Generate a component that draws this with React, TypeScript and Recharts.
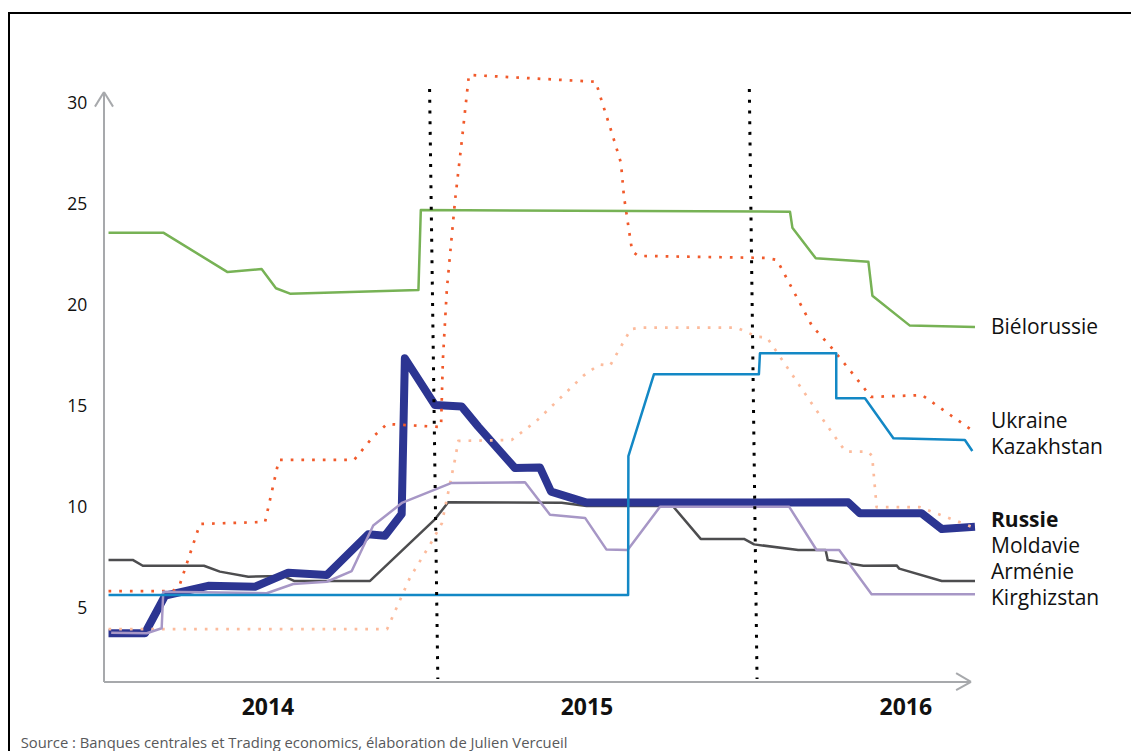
import React from 'react';
import { LineChart, Line, XAxis, YAxis, ReferenceLine } from 'recharts';

// x = months since January 2014, y = key policy rate (%)
const yearTicks = [6, 18, 30];
const yearLabels = ['2014', '2015', '2016'];
const rateTicks = [5, 10, 15, 20, 25, 30];

const bielorussie = [
  [0, 23.58], [2.06, 23.58], [4.48, 21.63], [5.76, 21.78], [6.3, 20.83], [6.83, 20.56],
  [11.66, 20.74], [11.75, 24.7], [25.64, 24.62], [25.73, 23.83], [26.61, 22.31],
  [28.59, 22.14], [28.74, 20.46], [30.15, 18.98], [32.6, 18.91],
];
const ukraine = [
  [0, 5.84], [2.43, 5.84], [2.69, 6.19], [3.44, 9.16], [5.89, 9.26], [6.41, 12.33],
  [9.24, 12.33], [9.95, 13.47], [10.48, 14.11], [12.51, 13.96], [12.58, 17.28],
  [12.73, 20.79], [13.04, 25.2], [13.3, 28.22], [13.56, 31.39], [18.34, 31.05],
  [18.45, 30.54], [18.94, 28.51], [19.28, 27.03], [19.39, 25.4], [19.58, 23.71],
  [19.7, 22.67], [19.92, 22.43], [24.77, 22.33], [25.15, 22.23], [26.47, 18.96],
  [27.15, 17.97], [28.01, 16.58], [28.69, 15.45], [30.61, 15.54], [32.53, 13.76],
];
const kazakhstan = [
  [0, 5.64], [19.55, 5.64], [19.56, 12.52], [20.52, 16.57], [24.47, 16.57], [24.51, 17.61],
  [27.38, 17.61], [27.38, 15.38], [28.46, 15.38], [29.53, 13.4], [32.22, 13.32], [32.5, 12.77],
];
const russie = [
  [0, 3.75], [1.37, 3.75], [2.13, 5.61], [3.75, 6.1], [5.51, 6.05], [6.76, 6.75],
  [8.21, 6.63], [9.77, 8.65], [10.4, 8.58], [11.03, 9.65], [11.15, 17.36], [12.28, 15.05],
  [13.29, 14.97], [13.91, 13.98], [15.29, 11.93], [16.23, 11.96], [16.65, 10.76],
  [17.99, 10.22], [27.83, 10.23], [28.27, 9.69], [30.59, 9.69], [31.35, 8.91], [32.6, 9.02],
];
const moldavie = [
  [0, 3.95], [10.48, 3.95], [11.34, 6.5], [12.16, 8.28], [12.54, 9.19], [13.04, 12.38],
  [13.16, 13.27], [15.17, 13.32], [16.11, 14.27], [17.86, 16.49], [18.47, 17.06],
  [18.87, 17.0], [19.65, 18.8], [20.02, 18.88], [23.63, 18.88], [24.39, 18.43],
  [24.77, 18.4], [26.35, 15.33], [27.52, 13.12], [27.74, 12.74], [28.59, 12.74],
  [28.73, 12.52], [28.9, 9.99], [30.53, 9.99], [32.48, 9.02],
];
const armenie = [
  [0, 7.38], [0.91, 7.38], [1.29, 7.09], [3.59, 7.09], [4.19, 6.8], [5.26, 6.55],
  [6.58, 6.58], [6.98, 6.34], [9.84, 6.34], [12.28, 9.39], [12.78, 10.23], [17.05, 10.21],
  [17.99, 10.05], [21.23, 10.05], [22.28, 8.42], [23.91, 8.42], [24.29, 8.15],
  [25.95, 7.87], [26.98, 7.87], [27.06, 7.38], [28.4, 7.09], [29.65, 7.11], [29.75, 6.95],
  [31.35, 6.34], [32.6, 6.34],
];
const kirghizstan = [
  [0.1, 3.78], [1.44, 3.75], [2.0, 4.0], [2.06, 5.81], [5.95, 5.73], [6.95, 6.19],
  [8.21, 6.3], [9.15, 6.83], [9.96, 9.08], [11.06, 10.22], [12.91, 11.19], [15.67, 11.22],
  [16.61, 9.62], [17.93, 9.46], [18.73, 7.9], [19.53, 7.87], [20.75, 10.01], [25.61, 10.01],
  [26.64, 7.87], [27.49, 7.87], [28.71, 5.68], [32.6, 5.68],
];

// dotted markers (Dec 2014 / Dec 2015): [x at top, x at bottom]
const markers = [
  [12.08, 12.39],
  [24.11, 24.4],
];
const markerTop = 30.69;
const markerBottom = 1.49;

const toPoints = (arr: number[][]) => arr.map(([m, v]) => ({ m, v }));

const FONT = '"Open Sans", "Noto Sans", sans-serif';
const AXIS = '#a7a9ac';

const series = [
  { name: 'Arménie', data: armenie, color: '#4d4d4f', width: 2.5 },
  { name: 'Russie', data: russie, color: '#2c3592', width: 8 },
  { name: 'Moldavie', data: moldavie, color: '#fcbb9c', width: 2.7, dash: '2.7 8' },
  { name: 'Ukraine', data: ukraine, color: '#f15a2b', width: 2.7, dash: '2.7 8' },
  { name: 'Biélorussie', data: bielorussie, color: '#77b255', width: 2.5 },
  { name: 'Kirghizstan', data: kirghizstan, color: '#a797c6', width: 2.5 },
  { name: 'Kazakhstan', data: kazakhstan, color: '#1388c5', width: 2.5 },
];

const labels = [
  { text: 'Biélorussie', y: 334, bold: false },
  { text: 'Ukraine', y: 428.3, bold: false },
  { text: 'Kazakhstan', y: 454, bold: false },
  { text: 'Russie', y: 527.3, bold: true },
  { text: 'Moldavie', y: 553.3, bold: false },
  { text: 'Arménie', y: 579.3, bold: false },
  { text: 'Kirghizstan', y: 605, bold: false },
];

const W = 1131;
const H = 751;

export default function App() {
  const axisX = -0.17;
  const axisY = 1.34;
  return (
    <div style={{ position: 'absolute', left: 0, top: 0, width: W, height: H, background: '#fff', overflow: 'hidden', fontFamily: FONT }}>
      <div style={{ position: 'absolute', left: 7.5, top: 11.5, width: W, height: H, borderTop: '2.5px solid #000', borderLeft: '2.5px solid #000' }} />
      <div style={{ position: 'absolute', left: 0, top: 0 }}>
        <LineChart width={W} height={H} margin={{ top: 62.6, right: 150.7, bottom: 22.1, left: 40 }}>
          <XAxis
            type="number"
            dataKey="m"
            domain={[-0.2, 32.8]}
            ticks={yearTicks}
            interval={0}
            tickFormatter={(t: number) => yearLabels[yearTicks.indexOf(t)]}
            axisLine={false}
            tickLine={false}
            tickSize={0}
            tickMargin={0}
            height={30}
            allowDataOverflow
            tick={{ fill: '#111', fontSize: 23, fontWeight: 700, fontFamily: FONT }}
          />
          <YAxis
            type="number"
            dataKey="v"
            domain={[0.5, 32]}
            ticks={rateTicks}
            interval={0}
            axisLine={false}
            tickLine={false}
            tickSize={0}
            tickMargin={16}
            width={63.2}
            allowDataOverflow
            tick={{ fill: '#111', fontSize: 17.5, fontFamily: FONT }}
          />
          <ReferenceLine segment={[{ x: axisX, y: axisY }, { x: axisX, y: 30.54 }]} stroke={AXIS} strokeWidth={2} ifOverflow="visible" />
          <ReferenceLine segment={[{ x: -0.51, y: 29.82 }, { x: axisX, y: 30.54 }]} stroke={AXIS} strokeWidth={2} ifOverflow="visible" />
          <ReferenceLine segment={[{ x: 0.17, y: 29.82 }, { x: axisX, y: 30.54 }]} stroke={AXIS} strokeWidth={2} ifOverflow="visible" />
          <ReferenceLine segment={[{ x: axisX, y: axisY }, { x: 32.45, y: axisY }]} stroke={AXIS} strokeWidth={2} ifOverflow="visible" />
          <ReferenceLine segment={[{ x: 31.89, y: 1.78 }, { x: 32.45, y: axisY }]} stroke={AXIS} strokeWidth={2} ifOverflow="visible" />
          <ReferenceLine segment={[{ x: 31.89, y: 0.94 }, { x: 32.45, y: axisY }]} stroke={AXIS} strokeWidth={2} ifOverflow="visible" />
          {series.map((s) => (
            <Line
              key={s.name}
              data={toPoints(s.data)}
              dataKey="v"
              type="linear"
              stroke={s.color}
              strokeWidth={s.width}
              strokeDasharray={s.dash}
              strokeLinejoin="round"
              dot={false}
              activeDot={false}
              isAnimationActive={false}
            />
          ))}
          {markers.map(([top, bottom], i) => (
            <ReferenceLine
              key={i}
              segment={[{ x: top, y: markerTop }, { x: bottom, y: markerBottom }]}
              stroke="#000"
              strokeWidth={3}
              strokeDasharray="3 7.7"
              ifOverflow="visible"
            />
          ))}
        </LineChart>
      </div>
      <svg width={W} height={H} style={{ position: 'absolute', left: 0, top: 0, pointerEvents: 'none' }}>
        {labels.map((l) => (
          <text key={l.text} x={991} y={l.y} fontSize={21} fontWeight={l.bold ? 700 : 400} fill="#111" fontFamily={FONT}>
            {l.text}
          </text>
        ))}
        <text x={20.7} y={748} fontSize={14.8} fill="#58595b" fontFamily={FONT}>
          Source : Banques centrales et Trading economics, élaboration de Julien Vercueil
        </text>
      </svg>
    </div>
  );
}
